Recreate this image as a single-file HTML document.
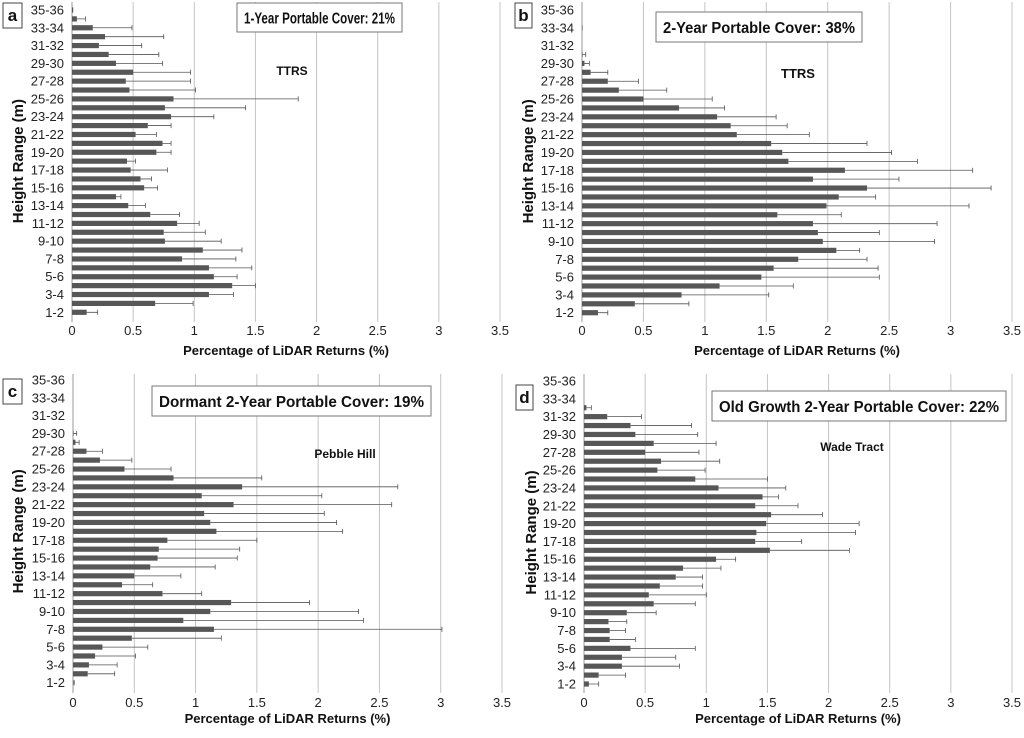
<!DOCTYPE html>
<html><head><meta charset="utf-8"><style>
html,body{margin:0;padding:0;background:#fff;}
svg{display:block;font-family:"Liberation Sans",Arial,sans-serif;}
</style></head><body>
<svg id="chart" width="1024" height="738" viewBox="0 0 1024 738" xmlns="http://www.w3.org/2000/svg"></svg>
<script>
const categories = ["1-2","2-3","3-4","4-5","5-6","6-7","7-8","8-9","9-10","10-11","11-12","12-13","13-14","14-15","15-16","16-17","17-18","18-19","19-20","20-21","21-22","22-23","23-24","24-25","25-26","26-27","27-28","28-29","29-30","30-31","31-32","32-33","33-34","34-35","35-36"];
const tickLabels = ["0","0.5","1","1.5","2","2.5","3","3.5"];
const tickValues = [0,0.5,1,1.5,2,2.5,3,3.5];
const valuesA = [0.12,0.68,1.12,1.31,1.16,1.12,0.90,1.07,0.76,0.75,0.86,0.64,0.46,0.36,0.59,0.56,0.48,0.45,0.69,0.74,0.52,0.62,0.81,0.76,0.83,0.47,0.44,0.50,0.36,0.30,0.22,0.27,0.17,0.04,0.01];
const errorsA = [0.21,0.99,1.32,1.50,1.35,1.47,1.34,1.39,1.22,1.09,1.04,0.88,0.60,0.40,0.70,0.65,0.78,0.52,0.81,0.81,0.69,0.81,1.16,1.42,1.85,1.01,0.97,0.97,0.74,0.71,0.57,0.75,0.49,0.11,0.01];
const valuesB = [0.13,0.43,0.81,1.12,1.46,1.56,1.76,2.07,1.96,1.92,1.88,1.59,1.99,2.09,2.32,1.88,2.14,1.68,1.63,1.54,1.26,1.21,1.10,0.79,0.50,0.30,0.21,0.07,0.02,0.003,0,0,0.003,0,0];
const errorsB = [0.21,0.87,1.52,1.72,2.42,2.41,2.32,2.26,2.87,2.42,2.89,2.11,3.15,2.39,3.33,2.58,3.18,2.73,2.52,2.32,1.85,1.67,1.58,1.16,1.06,0.69,0.46,0.21,0.06,0.03,0,0,0.003,0,0];
const valuesC = [0.005,0.12,0.13,0.18,0.24,0.48,1.15,0.90,1.12,1.29,0.73,0.40,0.50,0.63,0.69,0.70,0.77,1.17,1.12,1.07,1.31,1.05,1.38,0.82,0.42,0.22,0.11,0.02,0.005,0,0,0,0,0,0];
const errorsC = [0.01,0.34,0.36,0.51,0.61,1.21,3.01,2.37,2.33,1.93,1.05,0.65,0.88,1.16,1.34,1.36,1.50,2.20,2.15,2.05,2.60,2.03,2.65,1.54,0.80,0.48,0.24,0.05,0.03,0,0,0,0,0,0];
const valuesD = [0.04,0.12,0.31,0.31,0.38,0.21,0.21,0.20,0.35,0.57,0.53,0.62,0.75,0.81,1.08,1.52,1.40,1.41,1.49,1.53,1.40,1.46,1.10,0.91,0.60,0.63,0.50,0.57,0.42,0.38,0.19,0.02,0,0,0];
const errorsD = [0.12,0.34,0.78,0.75,0.91,0.42,0.34,0.35,0.59,0.91,1.00,0.97,0.97,1.12,1.24,2.17,1.78,2.22,2.25,1.95,1.75,1.59,1.65,1.50,0.99,1.11,0.94,1.08,0.93,0.88,0.47,0.06,0,0,0];

const panels = [
 {id:"a",vals:valuesA,errs:errorsA,x0:72,x1:500,yTop:10,yBot:312.3,gTop:2,gBot:322,title:"1-Year Portable Cover: 21%",tb:[237,3,165,29],site:"TTRS",sx:292,sy:75,sfs:12,lb:[3,3,19,25],ylx:18,xt:335,xtitle:355},
 {id:"b",vals:valuesB,errs:errorsB,x0:582,x1:1012,yTop:10,yBot:312.7,gTop:2,gBot:322,title:"2-Year Portable Cover: 38%",tb:[656,12,206,30],site:"TTRS",sx:798,sy:78,sfs:13,lb:[515,3,17,25],ylx:528,xt:335,xtitle:355},
 {id:"c",vals:valuesC,errs:errorsC,x0:73,x1:502,yTop:380,yBot:682.7,gTop:374,gBot:693,title:"Dormant 2-Year Portable Cover: 19%",tb:[152,386,279,30],site:"Pebble Hill",sx:345,sy:458,sfs:12,lb:[3,379,19,25],ylx:18,xt:707,xtitle:723},
 {id:"d",vals:valuesD,errs:errorsD,x0:584,x1:1012,yTop:381,yBot:684,gTop:374,gBot:693,title:"Old Growth 2-Year Portable Cover: 22%",tb:[712,391,294,30],site:"Wade Tract",sx:852,sy:451,sfs:12,lb:[516,385,17,25],ylx:531,xt:707,xtitle:723}
];
const svg=document.getElementById('chart');
const NS="http://www.w3.org/2000/svg";
function mk(tag,attrs,parent){const e=document.createElementNS(NS,tag);for(const k in attrs)e.setAttribute(k,attrs[k]);parent.appendChild(e);return e;}

panels.forEach(p=>{
  const g=mk('g',{},svg);
  
  
  const xs=v=>p.x0+(p.x1-p.x0)*v/3.5;
  const n=categories.length;
  const ys=i=>p.yBot-(p.yBot-p.yTop)*i/(n-1);
  tickValues.forEach((t,k)=>{
    const l=mk('line',{x1:xs(t),x2:xs(t),y1:p.gTop,y2:p.gBot,stroke:k===0?'#999':'#c4c4c4','stroke-width':1},g);
    
    
    const tx=mk('text',{x:xs(t),y:p.xt,'font-size':13,'text-anchor':'middle',fill:'#222'},g);
    tx.textContent=tickLabels[k];
    
    
  });
  categories.forEach((c,i)=>{
    if(i%2===0){
      const tx=mk('text',{x:xs(0)-8,y:ys(i)+4.5,'font-size':13,'text-anchor':'end',fill:'#222'},g);
      tx.textContent=c;
      
      
    }
  });
  p.vals.forEach((v,i)=>{
    const y=ys(i);
    if(v>0){
      const r=mk('rect',{x:xs(0),y:y-2.6,width:Math.max(0.6,xs(v)-xs(0)),height:5.2,fill:'#575757'},g);
      
      
    }
    const e=p.errs[i];
    if(e>v){
      const l=mk('path',{d:`M${xs(v)},${y}H${xs(e)}M${xs(e)},${y-2.5}V${y+2.5}`,stroke:'#555','stroke-width':0.8,fill:'none'},g);
      
      
    }
  });
  const tb=mk('rect',{x:p.tb[0],y:p.tb[1],width:p.tb[2],height:p.tb[3],fill:'#fff',stroke:'#777','stroke-width':1},g);
  
  
  const tt=mk('text',{x:p.tb[0]+p.tb[2]/2,y:p.tb[1]+p.tb[3]/2+6,'font-size':16,'font-weight':'bold','text-anchor':'middle',fill:'#111',textLength:p.tb[2]-14,lengthAdjust:'spacingAndGlyphs'},g);
  tt.textContent=p.title;
  
  
  const st=mk('text',{x:p.sx,y:p.sy,'font-size':p.sfs,'font-weight':'bold','text-anchor':'middle',fill:'#111'},g);
  st.textContent=p.site;
  
  
  const lb=mk('rect',{x:p.lb[0],y:p.lb[1],width:p.lb[2],height:p.lb[3],fill:'#fff',stroke:'#444','stroke-width':1},g);
  
  
  const lt=mk('text',{x:p.lb[0]+p.lb[2]/2,y:p.lb[1]+18,'font-size':17,'font-weight':'bold','text-anchor':'middle',fill:'#111'},g);
  lt.textContent=p.id;
  
  
  const xt=mk('text',{x:(xs(0)+xs(3.5))/2,y:p.xtitle,'font-size':13,'font-weight':'bold','text-anchor':'middle',fill:'#111'},g);
  xt.textContent='Percentage of LiDAR Returns (%)';
  
  
  const cy=(p.yTop+p.yBot)/2;
  const yt=mk('text',{x:0,y:0,'font-size':15,'font-weight':'bold','text-anchor':'middle',fill:'#111',transform:`translate(${p.ylx+5},${cy}) rotate(-90)`},g);
  yt.textContent='Height Range (m)';
  
  
});
</script>
</body></html>
